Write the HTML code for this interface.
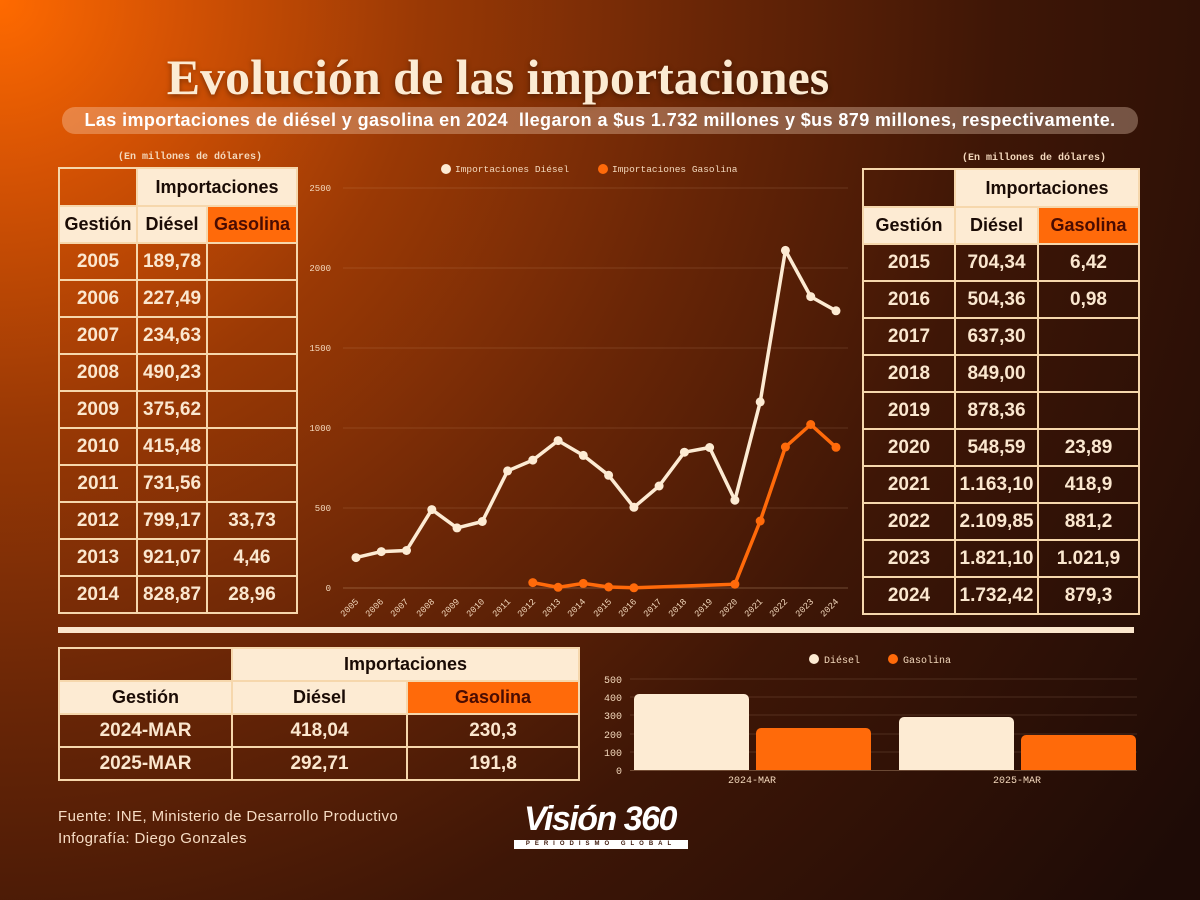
<!DOCTYPE html>
<html><head><meta charset="utf-8"><style>
*{margin:0;padding:0;box-sizing:border-box}
body{width:1200px;height:900px;overflow:hidden;position:relative;font-family:"Liberation Sans",sans-serif;
background:radial-gradient(circle at 0 0,#ff6a00 0,#d45204 180px,#9a3905 420px,#6a2606 700px,#3e1606 1000px,#1e0b06 1450px);}
.abs{position:absolute}
table{position:absolute;border-collapse:collapse;table-layout:fixed}
td{border:2px solid #f6d7ac;text-align:center;font-weight:bold;color:#fbe7cf;font-size:19px}
td.h{background:#fdebd3;color:#1a0b05;font-size:18px}
td.g{background:#ff6a0a;color:#4a0c02;font-size:18px}
.note{font-family:"Liberation Mono",monospace;font-size:10px;font-weight:bold;color:#f4d9bd}
</style></head><body>
<div class="abs" style="left:0;top:48px;width:996px;text-align:center;font-family:'Liberation Serif',serif;font-weight:bold;font-size:50px;color:#fcebd3;text-shadow:0 2px 6px rgba(0,0,0,.4)">Evolución de las importaciones</div>
<div class="abs" style="left:62px;top:107px;width:1076px;height:27px;border-radius:13px;background:rgba(255,225,200,.32);color:#fff;font-weight:bold;font-size:18px;letter-spacing:0.4px;line-height:27px;text-align:center;white-space:nowrap">Las importaciones de diésel y gasolina en 2024&nbsp; llegaron a $us 1.732 millones y $us 879 millones, respectivamente.</div>

<div class="abs note" style="left:118px;top:152px">(En millones de dólares)</div>
<div class="abs note" style="left:962px;top:153px">(En millones de dólares)</div>

<table style="left:58px;top:167px;width:238px">
<col style="width:78px"><col style="width:70px"><col style="width:90px">
<tr style="height:38px"><td></td><td class="h" colspan="2">Importaciones</td></tr>
<tr style="height:37px"><td class="h">Gestión</td><td class="h">Diésel</td><td class="g">Gasolina</td></tr>
<tr style="height:37px"><td>2005</td><td>189,78</td><td></td></tr>
<tr style="height:37px"><td>2006</td><td>227,49</td><td></td></tr>
<tr style="height:37px"><td>2007</td><td>234,63</td><td></td></tr>
<tr style="height:37px"><td>2008</td><td>490,23</td><td></td></tr>
<tr style="height:37px"><td>2009</td><td>375,62</td><td></td></tr>
<tr style="height:37px"><td>2010</td><td>415,48</td><td></td></tr>
<tr style="height:37px"><td>2011</td><td>731,56</td><td></td></tr>
<tr style="height:37px"><td>2012</td><td>799,17</td><td>33,73</td></tr>
<tr style="height:37px"><td>2013</td><td>921,07</td><td>4,46</td></tr>
<tr style="height:37px"><td>2014</td><td>828,87</td><td>28,96</td></tr>
</table>

<table style="left:862px;top:168px;width:276px">
<col style="width:92px"><col style="width:83px"><col style="width:101px">
<tr style="height:38px"><td></td><td class="h" colspan="2">Importaciones</td></tr>
<tr style="height:37px"><td class="h">Gestión</td><td class="h">Diésel</td><td class="g">Gasolina</td></tr>
<tr style="height:37px"><td>2015</td><td>704,34</td><td>6,42</td></tr>
<tr style="height:37px"><td>2016</td><td>504,36</td><td>0,98</td></tr>
<tr style="height:37px"><td>2017</td><td>637,30</td><td></td></tr>
<tr style="height:37px"><td>2018</td><td>849,00</td><td></td></tr>
<tr style="height:37px"><td>2019</td><td>878,36</td><td></td></tr>
<tr style="height:37px"><td>2020</td><td>548,59</td><td>23,89</td></tr>
<tr style="height:37px"><td>2021</td><td>1.163,10</td><td>418,9</td></tr>
<tr style="height:37px"><td>2022</td><td>2.109,85</td><td>881,2</td></tr>
<tr style="height:37px"><td>2023</td><td>1.821,10</td><td>1.021,9</td></tr>
<tr style="height:37px"><td>2024</td><td>1.732,42</td><td>879,3</td></tr>
</table>

<div class="abs" style="left:58px;top:627px;width:1076px;height:6px;background:#fbe6cc"></div>

<table style="left:58px;top:647px;width:520px">
<col style="width:173px"><col style="width:175px"><col style="width:172px">
<tr style="height:33px"><td></td><td class="h" colspan="2">Importaciones</td></tr>
<tr style="height:33px"><td class="h">Gestión</td><td class="h">Diésel</td><td class="g">Gasolina</td></tr>
<tr style="height:33px"><td>2024-MAR</td><td>418,04</td><td>230,3</td></tr>
<tr style="height:33px"><td>2025-MAR</td><td>292,71</td><td>191,8</td></tr>
</table>

<svg class="abs" style="left:0;top:0" width="1200" height="900" font-family="Liberation Mono, monospace">
<g stroke="#f0c9a0" stroke-opacity="0.15" stroke-width="1">
<line x1="343" y1="188" x2="848" y2="188"/><line x1="343" y1="268" x2="848" y2="268"/><line x1="343" y1="348" x2="848" y2="348"/><line x1="343" y1="428" x2="848" y2="428"/><line x1="343" y1="508" x2="848" y2="508"/><line x1="343" y1="588" x2="848" y2="588" stroke-opacity="0.3"/>
</g>
<g fill="#f4d9bd" font-size="9" text-anchor="end">
<text x="331" y="191">2500</text><text x="331" y="271">2000</text><text x="331" y="351">1500</text><text x="331" y="431">1000</text><text x="331" y="511">500</text><text x="331" y="591">0</text>
</g>
<g fill="#f4d9bd" font-size="9" text-anchor="end">
<text transform="translate(359,602) rotate(-45)">2005</text><text transform="translate(384,602) rotate(-45)">2006</text><text transform="translate(409,602) rotate(-45)">2007</text><text transform="translate(435,602) rotate(-45)">2008</text><text transform="translate(460,602) rotate(-45)">2009</text><text transform="translate(485,602) rotate(-45)">2010</text><text transform="translate(511,602) rotate(-45)">2011</text><text transform="translate(536,602) rotate(-45)">2012</text><text transform="translate(561,602) rotate(-45)">2013</text><text transform="translate(586,602) rotate(-45)">2014</text><text transform="translate(612,602) rotate(-45)">2015</text><text transform="translate(637,602) rotate(-45)">2016</text><text transform="translate(662,602) rotate(-45)">2017</text><text transform="translate(687,602) rotate(-45)">2018</text><text transform="translate(713,602) rotate(-45)">2019</text><text transform="translate(738,602) rotate(-45)">2020</text><text transform="translate(763,602) rotate(-45)">2021</text><text transform="translate(788,602) rotate(-45)">2022</text><text transform="translate(814,602) rotate(-45)">2023</text><text transform="translate(839,602) rotate(-45)">2024</text>
</g>
<circle cx="446" cy="169" r="5" fill="#fdebd3"/><text x="455" y="172" font-size="9.5" fill="#f4d9bd">Importaciones Diésel</text>
<circle cx="603" cy="169" r="5" fill="#ff6a0a"/><text x="612" y="172" font-size="9.5" fill="#f4d9bd">Importaciones Gasolina</text>
<polyline fill="none" stroke="#ff6a0a" stroke-width="3.5" stroke-linejoin="round" points="532.8,582.6 558.1,587.3 583.3,583.4 608.6,587 633.9,587.8 734.9,584.2 760.2,521 785.4,447 810.7,424.5 836,447.3"/>
<g fill="#ff6a0a"><circle cx="532.8" cy="582.6" r="4.5"/><circle cx="558.1" cy="587.3" r="4.5"/><circle cx="583.3" cy="583.4" r="4.5"/><circle cx="608.6" cy="587" r="4.5"/><circle cx="633.9" cy="587.8" r="4.5"/><circle cx="734.9" cy="584.2" r="4.5"/><circle cx="760.2" cy="521" r="4.5"/><circle cx="785.4" cy="447" r="4.5"/><circle cx="810.7" cy="424.5" r="4.5"/><circle cx="836" cy="447.3" r="4.5"/></g>
<polyline fill="none" stroke="#fdebd3" stroke-width="3.5" stroke-linejoin="round" points="356,557.6 381.3,551.6 406.5,550.5 431.8,509.6 457,527.9 482.3,521.5 507.6,470.9 532.8,460.1 558.1,440.6 583.3,455.4 608.6,475.3 633.9,507.3 659.1,486 684.4,452.2 709.6,447.5 734.9,500.2 760.2,401.9 785.4,250.4 810.7,296.6 836,310.8"/>
<g fill="#fdebd3"><circle cx="356" cy="557.6" r="4.5"/><circle cx="381.3" cy="551.6" r="4.5"/><circle cx="406.5" cy="550.5" r="4.5"/><circle cx="431.8" cy="509.6" r="4.5"/><circle cx="457" cy="527.9" r="4.5"/><circle cx="482.3" cy="521.5" r="4.5"/><circle cx="507.6" cy="470.9" r="4.5"/><circle cx="532.8" cy="460.1" r="4.5"/><circle cx="558.1" cy="440.6" r="4.5"/><circle cx="583.3" cy="455.4" r="4.5"/><circle cx="608.6" cy="475.3" r="4.5"/><circle cx="633.9" cy="507.3" r="4.5"/><circle cx="659.1" cy="486" r="4.5"/><circle cx="684.4" cy="452.2" r="4.5"/><circle cx="709.6" cy="447.5" r="4.5"/><circle cx="734.9" cy="500.2" r="4.5"/><circle cx="760.2" cy="401.9" r="4.5"/><circle cx="785.4" cy="250.4" r="4.5"/><circle cx="810.7" cy="296.6" r="4.5"/><circle cx="836" cy="310.8" r="4.5"/></g>

<g stroke="#f0c9a0" stroke-opacity="0.15"><line x1="630" y1="679" x2="1137" y2="679"/><line x1="630" y1="697" x2="1137" y2="697"/><line x1="630" y1="715" x2="1137" y2="715"/><line x1="630" y1="734" x2="1137" y2="734"/><line x1="630" y1="752" x2="1137" y2="752"/></g>
<g fill="#f4d9bd" font-size="10" text-anchor="end"><text x="622" y="683">500</text><text x="622" y="701">400</text><text x="622" y="719">300</text><text x="622" y="738">200</text><text x="622" y="756">100</text><text x="622" y="774">0</text></g>
<circle cx="814" cy="659" r="5" fill="#fdebd3"/><text x="824" y="663" font-size="10" fill="#f4d9bd">Diésel</text>
<circle cx="893" cy="659" r="5" fill="#ff6a0a"/><text x="903" y="663" font-size="10" fill="#f4d9bd">Gasolina</text>
<path d="M634,770 V699 a5,5 0 0 1 5,-5 H744 a5,5 0 0 1 5,5 V770Z" fill="#fdebd3"/>
<path d="M756,770 V733 a5,5 0 0 1 5,-5 H866 a5,5 0 0 1 5,5 V770Z" fill="#ff6a0a"/>
<path d="M899,770 V722 a5,5 0 0 1 5,-5 H1009 a5,5 0 0 1 5,5 V770Z" fill="#fdebd3"/>
<path d="M1021,770 V740 a5,5 0 0 1 5,-5 H1131 a5,5 0 0 1 5,5 V770Z" fill="#ff6a0a"/>
<line x1="630" y1="770.5" x2="1137" y2="770.5" stroke="#f0c9a0" stroke-opacity="0.3"/>
<g fill="#f4d9bd" font-size="10" text-anchor="middle"><text x="752" y="783">2024-MAR</text><text x="1017" y="783">2025-MAR</text></g>
</svg>

<div class="abs" style="left:58px;top:806px;color:#f6dcc4;font-size:15px;letter-spacing:0.4px;line-height:22px">Fuente: INE, Ministerio de Desarrollo Productivo<br>Infografía: Diego Gonzales</div>
<div class="abs" style="left:508px;top:800px;width:184px;text-align:center;color:#fff;font-weight:bold;font-style:italic;font-size:34px;line-height:38px;letter-spacing:-1.5px">Visión 360</div>
<div class="abs" style="left:514px;top:840px;width:174px;height:9px;background:#fff;color:#3a1406;font-size:6px;line-height:9px;text-align:center;letter-spacing:5px;font-weight:bold">PERIODISMO GLOBAL</div>
</body></html>
